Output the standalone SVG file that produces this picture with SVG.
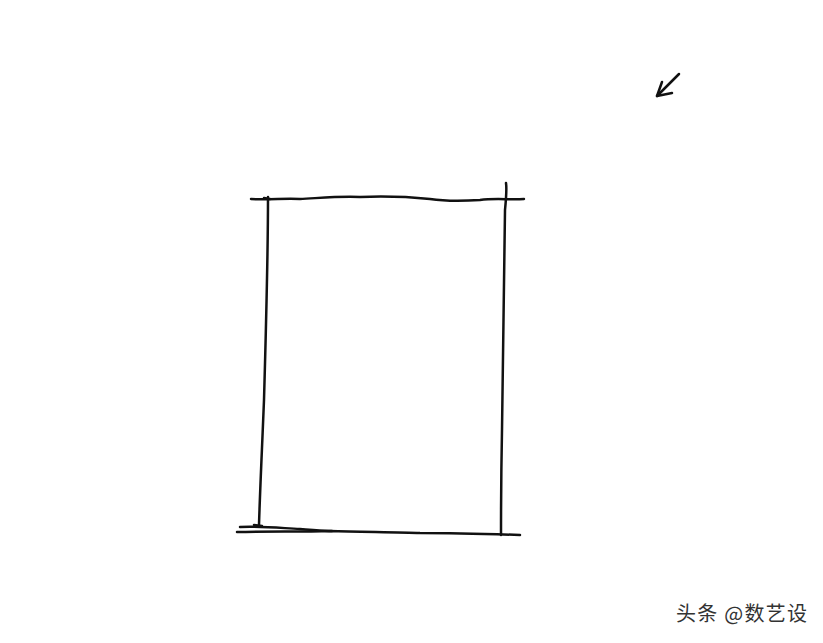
<svg xmlns="http://www.w3.org/2000/svg" width="823" height="643" viewBox="0 0 823 643">
<style>
.ink{fill:none;stroke:#111;stroke-width:2.5;stroke-linecap:round;stroke-linejoin:round}
.wm{font-family:"Noto Sans CJK SC","Noto Sans",sans-serif;font-size:20px;fill:#333}
</style>
<rect width="823" height="643" fill="#fff"/>
<g id="sketch-box">
<path class="ink" d="M251 199 C270 200 285 198 300 199 C320 198 340 196 360 197 C385 196 410 197 430 199 C450 202 465 201 480 200 C495 198 510 200 524 199"/>
<path class="ink" d="M264 198 L270 199"/>
<path class="ink" d="M268 197 C268 260 266 330 264 400 C262 450 260 490 259 525"/>
<path class="ink" d="M506 183 C507 190 506 200 505 210 C504 280 503 360 502 430 C501 480 501 510 501 535"/>
<path class="ink" d="M240 527 C260 526 280 528 300 529 C315 530 325 531 332 531"/>
<path class="ink" d="M237 532 C270 531 300 532 330 531 C360 532 400 532 420 533 C460 533 490 534 520 535"/>
<path class="ink" d="M254 525 L262 526"/>
</g>
<g id="arrow">
<path class="ink" d="M679 74 L657 96"/>
<path class="ink" d="M662 82 L657 96 L672 93"/>
</g>
<text class="wm" x="676" y="621" textLength="131" lengthAdjust="spacing">头条 @数艺设</text>
</svg>
